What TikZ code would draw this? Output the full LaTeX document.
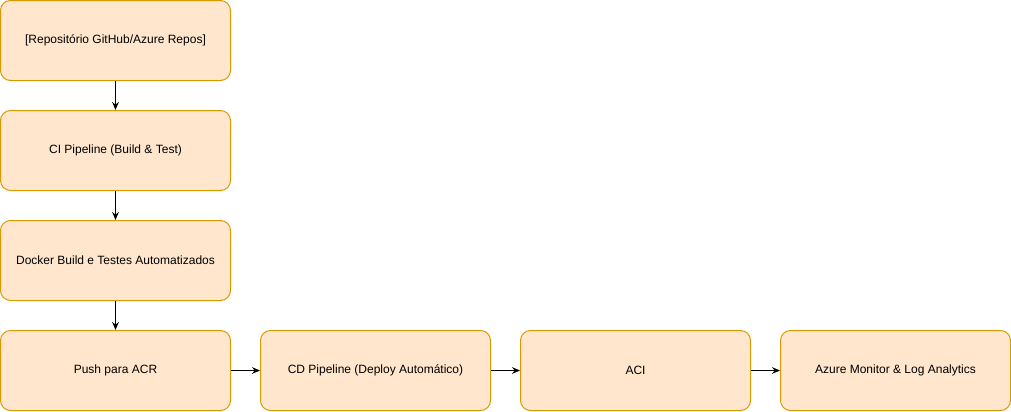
\documentclass[tikz,border=0pt]{standalone}
\usepackage{fontspec}
\setmainfont{Liberation Sans}
\usetikzlibrary{positioning,arrows.meta}
\definecolor{boxfill}{HTML}{FFE6CC}
\definecolor{boxline}{HTML}{D79B00}
\tikzset{>={Stealth[length=6pt,width=5pt]}}
\tikzset{stage/.style={draw=boxline,fill=boxfill,line width=0.75pt,rounded corners=7.5pt,
  minimum width=172.5pt,minimum height=60pt,inner sep=0pt,font=\fontsize{9}{11}\selectfont}}

\begin{document}
\begin{tikzpicture}[x=0.75pt,y=-0.75pt,node distance=21.75pt]
\useasboundingbox (0,0) rectangle (1011,411);
\node[stage] (repo) at (115.5,40.5) {[Repositório GitHub/Azure Repos]};
\node[stage,below=of repo] (ci) {CI Pipeline (Build \& Test)};
\node[stage,below=of ci] (docker) {Docker Build e Testes Automatizados};
\node[stage,below=of docker] (push) {Push para ACR};
\node[stage,right=of push] (cd) {CD Pipeline (Deploy Automático)};
\node[stage,right=of cd] (aci) {ACI};
\node[stage,right=of aci] (monitor) {Azure Monitor \& Log Analytics};
\draw[->,line width=0.75pt] (repo) -- (ci);
\draw[->,line width=0.75pt] (ci) -- (docker);
\draw[->,line width=0.75pt] (docker) -- (push);
\draw[->,line width=0.75pt] (push) -- (cd);
\draw[->,line width=0.75pt] (cd) -- (aci);
\draw[->,line width=0.75pt] (aci) -- (monitor);
\end{tikzpicture}
\end{document}
